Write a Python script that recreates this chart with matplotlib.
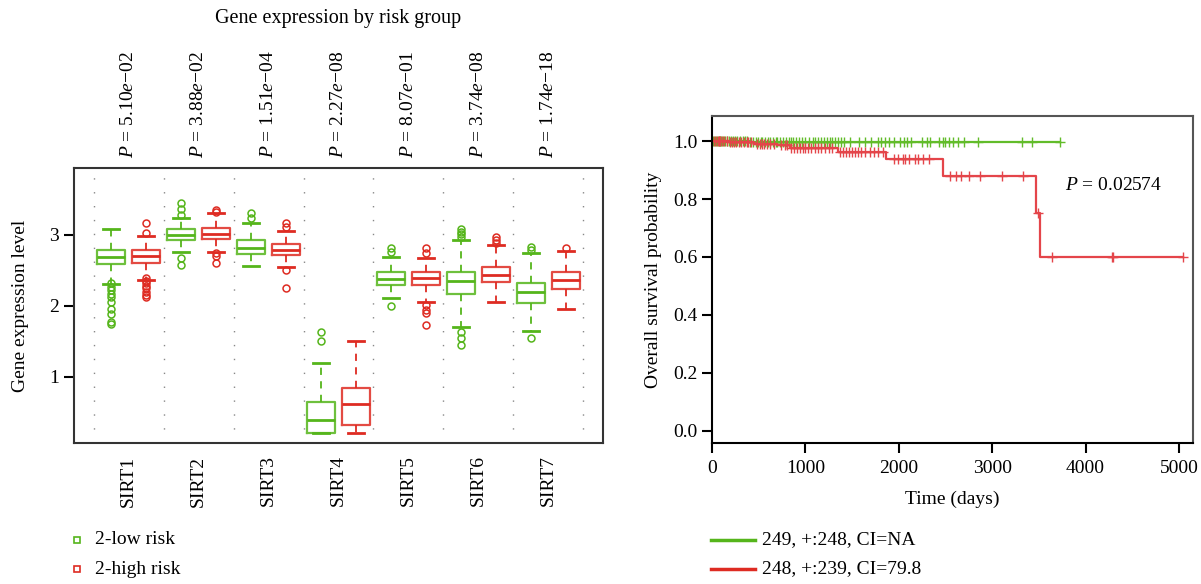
import matplotlib.pyplot as plt
import numpy as np
from matplotlib.lines import Line2D

plt.rcParams['font.family'] = ['Liberation Serif', 'DejaVu Serif']
plt.rcParams['mathtext.fontset'] = 'custom'
plt.rcParams['mathtext.rm'] = 'Liberation Serif'
plt.rcParams['mathtext.it'] = 'Liberation Serif:italic'

GREEN = "#55B51B"
RED = "#DE2B22"
KM_GREEN = "#62BC2A"
KM_RED = "#E4454A"

# boxplot data
genes = ["SIRT1", "SIRT2", "SIRT3", "SIRT4", "SIRT5", "SIRT6", "SIRT7"]
pvals = ["5.10", "3.88", "1.51", "2.27", "8.07", "3.74", "1.74"]
pexps = ["02", "02", "04", "08", "01", "08", "18"]

low_whislo = [2.31, 2.76, 2.56, 0.21, 2.11, 1.70, 1.65]
low_q1 = [2.59, 2.93, 2.73, 0.21, 2.30, 2.16, 2.04]
low_med = [2.69, 3.00, 2.82, 0.40, 2.38, 2.35, 2.20]
low_q3 = [2.785, 3.08, 2.92, 0.65, 2.47, 2.47, 2.32]
low_whishi = [3.08, 3.24, 3.17, 1.20, 2.69, 2.92, 2.75]
low_fliers = [
    [2.32, 2.27, 2.22, 2.17, 2.12, 2.06, 1.96, 1.89, 1.77, 1.74],
    [3.45, 3.37, 3.28, 2.68, 2.58],
    [3.30, 3.23],
    [1.63, 1.50],
    [2.81, 2.76, 2.00],
    [3.08, 3.04, 3.01, 2.97, 1.63, 1.55, 1.45],
    [2.83, 2.78, 1.55],
]

high_whislo = [2.37, 2.76, 2.55, 0.21, 2.06, 2.06, 1.96]
high_q1 = [2.61, 2.94, 2.72, 0.32, 2.30, 2.34, 2.24]
high_med = [2.70, 3.01, 2.79, 0.62, 2.39, 2.43, 2.37]
high_q3 = [2.785, 3.10, 2.87, 0.85, 2.47, 2.55, 2.47]
high_whishi = [2.98, 3.30, 3.06, 1.51, 2.68, 2.85, 2.77]
high_fliers = [
    [3.16, 3.03, 2.39, 2.35, 2.32, 2.28, 2.25, 2.20, 2.15, 2.13],
    [3.35, 3.32, 2.74, 2.70, 2.60],
    [3.16, 3.11, 2.50, 2.25],
    [],
    [2.81, 2.74, 2.01, 1.94, 1.90, 1.73],
    [2.97, 2.93, 2.88],
    [2.82],
]

# survival data
green_event_t = [0, 400]
green_event_s = [1.0, 0.996]
green_cens = [15, 30, 50, 70, 85, 100, 120, 140, 165, 185, 200, 230, 250, 270,
              300, 330, 350, 380, 410, 440, 470, 490, 520, 540, 570, 600, 620,
              650, 680, 700, 730, 760, 790, 820, 850, 870, 900, 930, 960, 1000,
              1040, 1080, 1100, 1140, 1170, 1200, 1230, 1260, 1290, 1320, 1350,
              1380, 1411, 1480, 1572, 1640, 1700, 1772, 1812, 1850, 1893, 1950,
              2013, 2060, 2093, 2133, 2253, 2300, 2334, 2434, 2470, 2494, 2534,
              2580, 2634, 2694, 2845, 3315, 3430, 3725]

red_event_t = [0, 180, 450, 700, 830, 1350, 1860, 2474, 3468, 3516]
red_event_s = [1.0, 0.996, 0.991, 0.986, 0.976, 0.963, 0.939, 0.881, 0.753, 0.601]
red_cens = [20, 40, 60, 75, 90, 110, 130, 160, 190, 210, 240, 260, 290, 310,
            340, 370, 390, 420, 480, 510, 530, 560, 590, 620, 660, 740, 780,
            800, 850, 880, 910, 940, 970, 1000, 1030, 1060, 1100, 1130, 1170,
            1210, 1250, 1290, 1370, 1400, 1430, 1470, 1500, 1530, 1560, 1600,
            1640, 1690, 1730, 1780, 1830, 1950, 1990, 2050, 2070, 2110, 2170,
            2210, 2260, 2320, 2550, 2610, 2670, 2750, 2870, 3110, 3330, 3490,
            3637, 4278, 4298, 5040]

fig = plt.figure(figsize=(12.01, 5.84), dpi=100)

# ---------------- left: boxplots ----------------
ax1 = fig.add_axes([74/1201, 141/584, 529/1201, 275/584])


def mkstats(wl, q1, md, q3, wh, fl):
    return [dict(whislo=wl[i], q1=q1[i], med=md[i], q3=q3[i], whishi=wh[i],
                 fliers=np.array(fl[i])) for i in range(len(md))]


pos = np.arange(1, len(genes) + 1)
for stats, off, col in [
    (mkstats(low_whislo, low_q1, low_med, low_q3, low_whishi, low_fliers), -0.25, GREEN),
    (mkstats(high_whislo, high_q1, high_med, high_q3, high_whishi, high_fliers), 0.25, RED),
]:
    ax1.bxp(stats, positions=pos + off, widths=0.41, capwidths=0.22,
            boxprops=dict(color=col, lw=1.6, alpha=0.85),
            medianprops=dict(color=col, lw=2),
            whiskerprops=dict(color=col, lw=1.3, linestyle=(0, (4, 3.5))),
            capprops=dict(color=col, lw=2),
            flierprops=dict(marker='o', markerfacecolor='none', markeredgecolor=col,
                            markersize=5, markeredgewidth=1.1))

for x in np.arange(0.5, len(genes) + 1, 1.0):
    ax1.axvline(x, color='#888888', lw=1, linestyle=(0, (1, 9)), zorder=0)

ax1.set_xlim(0.22, 7.78)
ax1.set_ylim(0.07, 3.94)
ax1.set_yticks([1, 2, 3])
ax1.set_yticklabels(["1", "2", "3"])
ax1.set_xticks(pos)
ax1.set_xticklabels(genes, rotation=90, fontsize=14)
ax1.tick_params(axis='x', length=0, pad=9)
ax1.tick_params(axis='y', length=7, width=1.5, labelsize=14, pad=4)
for s in ax1.spines.values():
    s.set_color('#333333')
    s.set_linewidth(1.5)
ax1.set_ylabel("Gene expression level", fontsize=14, labelpad=14)

for i, x in enumerate(pos):
    ax1.annotate(r"$P$ = " + pvals[i] + r"$e$" + "\u2212" + pexps[i],
                 xy=(x, 1), xycoords=('data', 'axes fraction'),
                 xytext=(0, 7), textcoords='offset points',
                 rotation=90, ha='center', va='bottom', fontsize=14)

fig.text(338/1201, 1 - 18/584, "Gene expression by risk group", ha='center',
         va='center', fontsize=14.5)

# left legend
for yy, col, lab in [(540, GREEN, "2-low risk"), (569, RED, "2-high risk")]:
    fig.add_artist(Line2D([77/1201], [1 - yy/584], transform=fig.transFigure,
                          marker='s', markersize=4.5, markerfacecolor='none',
                          markeredgecolor=col, markeredgewidth=1.2, linestyle='none'))
    fig.text(95/1201, 1 - yy/584, lab, ha='left', va='center', fontsize=14)

# ---------------- right: Kaplan-Meier ----------------
ax2 = fig.add_axes([712/1201, 141/584, 481/1201, 327/584])


def km_plot(ax, ev_t, ev_s, cens, col):
    ev_t = np.array(ev_t)
    ev_s = np.array(ev_s)
    cens = np.array(cens)
    end = max(cens.max(), ev_t.max())
    tt = np.append(ev_t, end)
    ss = np.append(ev_s, ev_s[-1])
    ax.step(tt, ss, where='post', color=col, lw=1.6)
    idx = np.searchsorted(ev_t, cens, side='right') - 1
    ax.plot(cens, ev_s[idx], linestyle='none', marker='+', markersize=7,
            markeredgewidth=1, color=col)


km_plot(ax2, green_event_t, green_event_s, green_cens, KM_GREEN)
km_plot(ax2, red_event_t, red_event_s, red_cens, KM_RED)

ax2.set_xlim(0, 5150)
ax2.set_ylim(-0.043, 1.087)
ax2.set_xticks([0, 1000, 2000, 3000, 4000, 5000])
ax2.set_yticks([0.0, 0.2, 0.4, 0.6, 0.8, 1.0])
ax2.set_yticklabels(["0.0", "0.2", "0.4", "0.6", "0.8", "1.0"])
ax2.tick_params(length=7, width=1.5, labelsize=14)
ax2.tick_params(axis='x', pad=5)
for s in ['left', 'bottom']:
    ax2.spines[s].set_color('black')
    ax2.spines[s].set_linewidth(1.5)
for s in ['top', 'right']:
    ax2.spines[s].set_color('#555555')
    ax2.spines[s].set_linewidth(1.5)
ax2.set_xlabel("Time (days)", fontsize=14, labelpad=10)
ax2.set_ylabel("Overall survival probability", fontsize=14, labelpad=8)
ax2.text(3780, 0.846, r"$P$ = 0.02574", fontsize=14, ha='left', va='center')

# right legend
for yy, col, lab in [(540, GREEN, "249, +:248, CI=NA"), (569, RED, "248, +:239, CI=79.8")]:
    fig.add_artist(Line2D([711/1201, 755/1201], [1 - yy/584] * 2,
                          transform=fig.transFigure, color=col, lw=2.5))
    fig.text(762/1201, 1 - yy/584, lab, ha='left', va='center', fontsize=14)

fig.savefig("out.png", dpi=100)
